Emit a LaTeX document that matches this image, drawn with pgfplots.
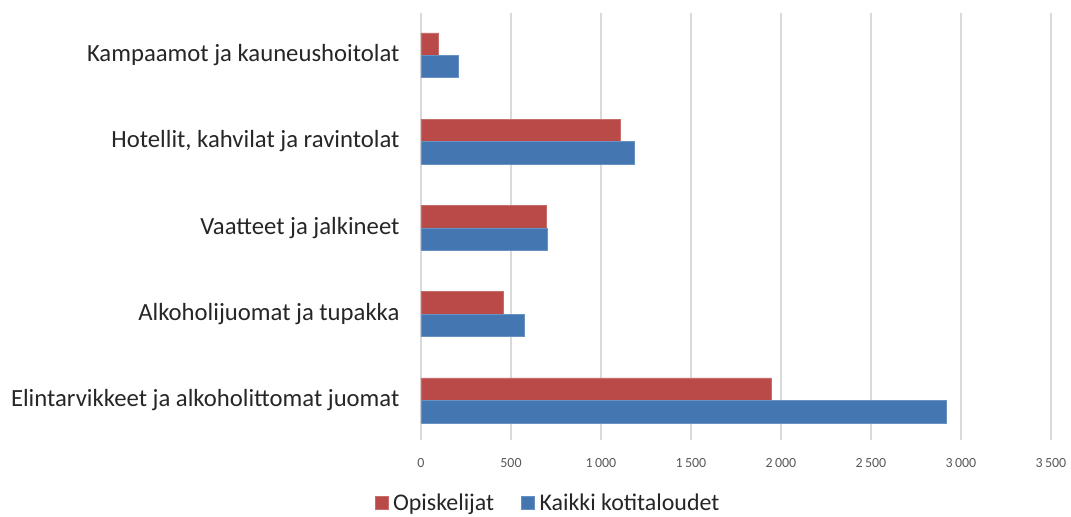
\documentclass[border=0pt]{standalone}
\usepackage{pgfplots}
\pgfplotsset{compat=1.18}
\usepackage{fontspec}
\setmainfont{Carlito}
\definecolor{cred}{RGB}{185,74,72}
\definecolor{cblue}{RGB}{68,118,178}
\definecolor{cgrid}{RGB}{217,217,217}
\definecolor{ctick}{RGB}{89,89,89}
\definecolor{clab}{RGB}{38,38,38}
\begin{document}
\begin{tikzpicture}
\begin{axis}[
  at={(0,0)}, anchor=south west,
  scale only axis,
  width=630bp, height=427bp,
  xbar, bar width=0.26,
  xmin=0, xmax=3500,
  ymin=-0.46, ymax=4.49,
  xtick={0,500,...,3500},
  ytick={0,1,2,3,4},
  yticklabels={Elintarvikkeet ja alkoholittomat juomat, Alkoholijuomat ja tupakka, Vaatteet ja jalkineet, {Hotellit, kahvilat ja ravintolat}, Kampaamot ja kauneushoitolat},
  axis line style={draw=none},
  major tick length=0pt,
  xmajorgrids, grid style={cgrid, line width=1.2bp},
  scaled x ticks=false,
  /pgf/number format/.cd, 1000 sep={\,}, assume math mode=true,
  /pgfplots/.cd,
  xticklabel style={font=\fontsize{14}{16}\selectfont, text=ctick, yshift=-15bp},
  yticklabel style={font=\fontsize{24.8}{28}\selectfont, text=clab, xshift=-18bp},
  legend style={at={(0.204,-0.1475)}, anchor=center, draw=none, legend columns=2,
    font=\fontsize{24}{28}\selectfont, text=clab,
    nodes={inner xsep=5bp},
    /tikz/every even column/.append style={column sep=22bp}},
  legend image code/.code={\fill[#1] (0bp,-6.5bp) rectangle (13bp,6.5bp);},
]
\addplot[fill=cred, draw=cred!80!white, bar shift=0.13] coordinates {(1945,0) (457,1) (698,2) (1107,3) (98,4)};
\addplot[fill=cblue, draw=cblue!80!white, bar shift=-0.13] coordinates {(2917,0) (574,1) (700,2) (1187,3) (209,4)};
\legend{Opiskelijat, Kaikki kotitaloudet}
\end{axis}
\useasboundingbox (-421bp,-73bp) rectangle (650bp,440bp);
\end{tikzpicture}
\end{document}
